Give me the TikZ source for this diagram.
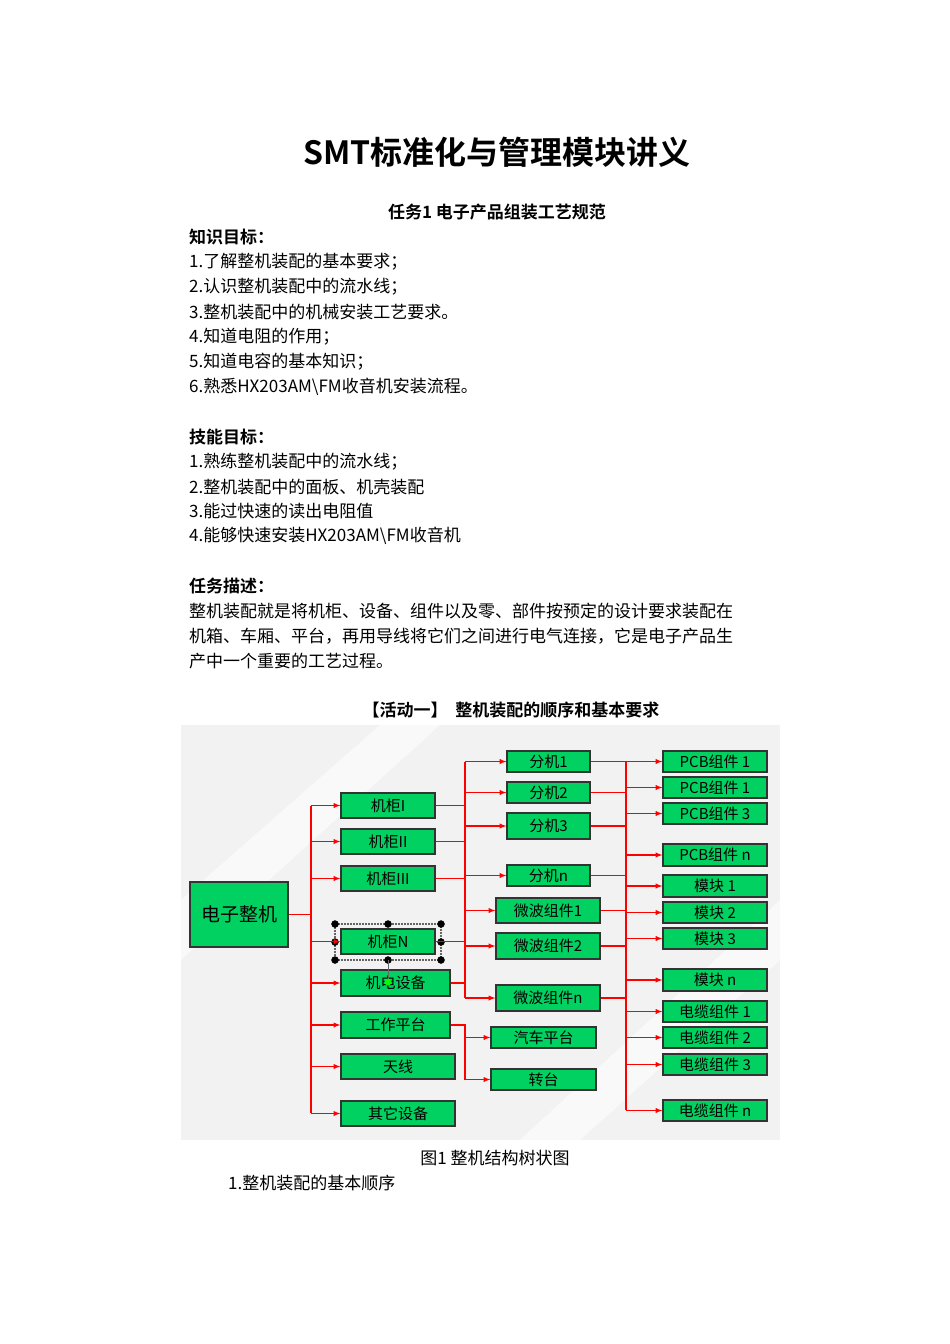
\documentclass[tikz,border=0pt]{standalone}
\usepackage{fontspec}
\setmainfont{Liberation Serif}
\newfontfamily\cjk{Noto Sans CJK SC}
\newfontfamily\cjkb{Noto Sans CJK SC Bold}
\begin{document}
\begin{tikzpicture}[x=1pt,y=-1pt,
  bx/.style={draw=black!80,line width=1.2pt,fill=green!55!teal!80!cyan,inner sep=0pt,font=\cjk\fontsize{15}{15}\selectfont},
  ar/.style={red,line width=1.3pt,-latex},
  ln/.style={red,line width=1.3pt},
  body/.style={anchor=west,inner sep=0pt,font=\cjk\fontsize{17}{19}\selectfont},
  head/.style={anchor=west,inner sep=0pt,font=\cjkb\fontsize{17}{19}\selectfont}]
\useasboundingbox (0,0) rectangle (950,1344);
\fill[white] (0,0) rectangle (950,1344);
\newcommand{\bx}[6]{\node[bx,minimum width={#4-#2},minimum height={#5-#3}] (#1) at ({(#2+#4)/2},{(#3+#5)/2}) {#6};}
% text
\node[inner sep=0pt,font=\cjkb\fontsize{32}{34}\selectfont] (title) at (497,152) {SMT标准化与管理模块讲义};
\node[inner sep=0pt,font=\cjkb\fontsize{17}{19}\selectfont] (t1) at (497,212) {任务1\ 电子产品组装工艺规范};
\node[head] (h1) at (189,237) {知识目标：};
\node[body] (a1) at (189,262) {1.了解整机装配的基本要求；};
\node[body] (a2) at (189,287) {2.认识整机装配中的流水线；};
\node[body] (a3) at (189,312) {3.整机装配中的机械安装工艺要求。};
\node[body] (a4) at (189,337) {4.知道电阻的作用；};
\node[body] (a5) at (189,362) {5.知道电容的基本知识；};
\node[body] (a6) at (189,387) {6.熟悉HX203AM\textbackslash FM收音机安装流程。};
\node[head] (h2) at (189,437) {技能目标：};
\node[body] (b1) at (189,462) {1.熟练整机装配中的流水线；};
\node[body] (b2) at (189,487) {2.整机装配中的面板、机壳装配};
\node[body] (b3) at (189,511) {3.能过快速的读出电阻值};
\node[body] (b4) at (189,536) {4.能够快速安装HX203AM\textbackslash FM收音机};
\node[head] (h3) at (189,586) {任务描述：};
\node[body] (c1) at (189,611) {整机装配就是将机柜、设备、组件以及零、部件按预定的设计要求装配在};
\node[body] (c2) at (189,636) {机箱、车厢、平台，再用导线将它们之间进行电气连接，它是电子产品生};
\node[body] (c3) at (189,661) {产中一个重要的工艺过程。};
\node[inner sep=0pt,font=\cjkb\fontsize{17}{19}\selectfont] (act) at (511,710) {【活动一】\ \ 整机装配的顺序和基本要求};
\node[inner sep=0pt,font=\cjk\fontsize{17}{19}\selectfont] (cap) at (495,1158) {图1\ 整机结构树状图};
\node[body] (d1) at (228,1183) {1.整机装配的基本顺序};
% background
\fill[black!5] (181,725) rectangle (780,1140);
\fill[white,opacity=0.6] (181,900) -- (380,725) -- (440,725) -- (181,960) -- cycle;
\fill[white,opacity=0.6] (520,1140) -- (780,900) -- (780,960) -- (580,1140) -- cycle;
% boxes
\bx{root}{190}{882}{288}{947}{\fontsize{19}{19}\selectfont 电子整机}
\bx{k1}{341}{793}{435}{818}{机柜I}
\bx{k2}{341}{829}{435}{854}{机柜II}
\bx{k3}{341}{866}{435}{891}{机柜III}
\bx{kn}{341}{929}{435}{954}{机柜N}
\bx{jd}{341}{970}{450}{996}{机电设备}
\bx{gz}{341}{1012}{450}{1038}{工作平台}
\bx{tx}{341}{1054}{455}{1079}{天线}
\bx{qt}{341}{1101}{455}{1126}{其它设备}
\bx{f1}{507}{751}{590}{772}{分机1}
\bx{f2}{507}{782}{590}{803}{分机2}
\bx{f3}{507}{813}{590}{839}{分机3}
\bx{fn}{507}{865}{590}{886}{分机n}
\bx{w1}{496}{898}{600}{923}{微波组件1}
\bx{w2}{496}{933}{600}{959}{微波组件2}
\bx{wn}{496}{985}{600}{1011}{微波组件n}
\bx{qc}{491}{1027}{596}{1048}{汽车平台}
\bx{zt}{491}{1069}{596}{1090}{转台}
\bx{p1}{663}{751}{767}{772}{PCB组件 1}
\bx{p2}{663}{777}{767}{798}{PCB组件 1}
\bx{p3}{663}{803}{767}{824}{PCB组件 3}
\bx{pn}{663}{844}{767}{866}{PCB组件 n}
\bx{m1}{663}{875}{767}{897}{模块 1}
\bx{m2}{663}{902}{767}{923}{模块 2}
\bx{m3}{663}{928}{767}{949}{模块 3}
\bx{mn}{663}{969}{767}{991}{模块 n}
\bx{c1b}{663}{1001}{767}{1022}{电缆组件 1}
\bx{c2b}{663}{1027}{767}{1048}{电缆组件 2}
\bx{c3b}{663}{1054}{767}{1075}{电缆组件 3}
\bx{cnb}{663}{1100}{767}{1121}{电缆组件 n}
% selection handles
\draw[black!60,densely dotted,line width=2pt] (335,924) rectangle (441,960);
\foreach \hx/\hy in {335/924,388/924,441/924,335/942,441/942,335/960,388/960,441/960}
  \draw[fill=white,black] (\hx,\hy) circle (3.5);
\draw[black!60] (388,960) -- (388,982);
\fill[green] (388,982) circle (3.5);
% trunk 1
\coordinate (t1a) at (311,806);
\coordinate (t1b) at (311,1113);
\draw[ln] (t1a) -- (t1b);
\draw[ln] (root.east) -- (root.east -| t1a);
\foreach \n in {k1,k2,k3,kn,jd,gz,tx,qt} \draw[ar] (\n.west -| t1a) -- (\n.west);
% trunk 2
\coordinate (t2a) at (465,762);
\coordinate (t2b) at (465,998);
\draw[ln] (t2a) -- (t2b);
\foreach \n in {k1,k2,k3,kn,jd} \draw[ln] (\n.east) -- (\n.east -| t2a);
\foreach \n in {f1,f2,f3,fn,w1,w2,wn} \draw[ar] (\n.west -| t2a) -- (\n.west);
% trunk 2b
\coordinate (t3a) at (465,1025);
\coordinate (t3b) at (465,1080);
\draw[ln] (gz.east) -- (gz.east -| t3a) -- (t3b);
\foreach \n in {qc,zt} \draw[ar] (\n.west -| t3a) -- (\n.west);
% trunk 3
\coordinate (t4a) at (626,762);
\coordinate (t4b) at (626,1110);
\draw[ln] (t4a) -- (t4b);
\foreach \n in {f1,f2,f3,fn,w1,w2,wn} \draw[ln] (\n.east) -- (\n.east -| t4a);
\foreach \n in {p1,p2,p3,pn,m1,m2,m3,mn,c1b,c2b,c3b,cnb} \draw[ar] (\n.west -| t4a) -- (\n.west);
\end{tikzpicture}
\end{document}
